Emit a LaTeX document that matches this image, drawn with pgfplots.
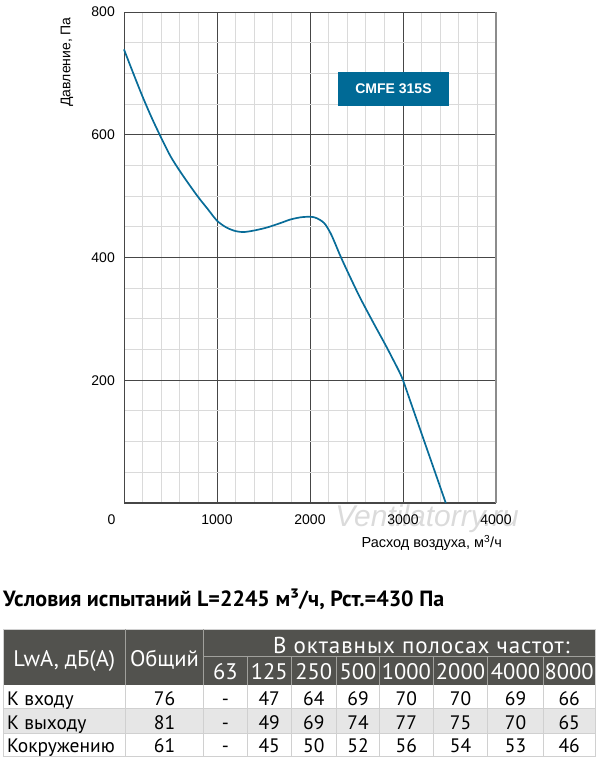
\documentclass[border=0pt]{standalone}
\usepackage{pgfplots}
\pgfplotsset{compat=1.18}
\usepackage{fontspec}
\setmainfont{Liberation Sans}
\newfontfamily\tabfont{PT Sans}
\newfontfamily\tabfontls[LetterSpace=4]{PT Sans}
\definecolor{curve}{RGB}{8,108,152}
\definecolor{boxblue}{RGB}{0,106,150}
\definecolor{hdr}{RGB}{82,82,78}
\definecolor{hdrline}{RGB}{160,160,156}
\definecolor{bodyline}{RGB}{208,208,208}
\definecolor{rowgray}{RGB}{230,230,230}
\definecolor{majgrid}{RGB}{70,70,70}
\definecolor{mingrid}{RGB}{218,218,218}
\begin{document}
\begin{tikzpicture}[x=1pt,y=1pt]
\useasboundingbox (0,0) rectangle (600,761);
% watermark
\node[font=\itshape\fontsize{30}{30}\selectfont, text=black!14, inner sep=0] at (427,242) {Ventilatorry.ru};
\begin{axis}[at={(124pt,258pt)}, anchor=south west, scale only axis,
  width=372pt, height=491pt,
  xmin=0, xmax=4000, ymin=0, ymax=800,
  xtick={0,1000,2000,3000,4000}, xticklabels={,1000,2000,3000,4000},
  ytick={0,200,400,600,800}, yticklabels={,200,400,600,800},
  minor x tick num=4, minor y tick num=3,
  grid=both,
  major grid style={majgrid, line width=0.8pt},
  minor grid style={mingrid, line width=1pt},
  major tick length=0pt, minor tick length=0pt,
  axis line style={majgrid, line width=1pt},
  /pgf/number format/assume math mode=true,
  ticklabel style={font=\fontsize{14}{14}\selectfont, inner sep=0pt},
  xticklabel style={anchor=north, yshift=-12pt},
  yticklabel style={anchor=east, xshift=-9pt},
  clip=false]
\addplot[curve, line width=1.7pt, smooth, tension=0.5] coordinates {
(0,739) (100,700) (200,662) (300,627) (400,595) (500,565) (600,541)
(700,519) (800,498) (900,479) (1000,460) (1100,449) (1200,443) (1288,441.5)
(1400,444) (1540,449) (1680,456) (1791,462) (1900,465.5) (1971,466.3)
(2030,466) (2079,463.6) (2130,459) (2169,453) (2223,439) (2270,423)
(2331,401) (2435,367) (2547,332) (2691,291) (2817,256) (2906,230)
(2950,217) (3000,200) (3115,150) (3230,100) (3345,50) (3460,0)};
\end{axis}
\draw[black!45, line width=1.3pt] (496,258) -- (496,749);
% chart annotations
\node[fill=boxblue, minimum width=111pt, minimum height=34pt, inner sep=0,
  text=white, font=\bfseries\fontsize{14}{14}\selectfont] at (393.5,672) {CMFE 315S};
\node[rotate=90, anchor=east, inner sep=0, font=\fontsize{14}{14}\selectfont] at (67,744) {Давление, Па};
\node[anchor=east, inner sep=0, font=\fontsize{14.5}{15}\selectfont] at (502,218) {Расход воздуха, м\textsuperscript{3}/ч};
\node[inner sep=0, font=\fontsize{14}{14}\selectfont] at (111.5,241) {0};
% title
\node[anchor=base west, inner sep=0, font=\tabfont\bfseries\fontsize{22}{22}\selectfont] at (3,154.5) {Условия испытаний L=2245 м³/ч, Рст.=430 Па};
% table backgrounds
\fill[hdr] (3,76) rectangle (595,131.7);
\fill[rowgray] (3,27.7) rectangle (595,52.7);
% body lines
\begin{scope}[bodyline, line width=0.9pt]
\draw (3,131.7) -- (595,131.7);
\foreach \y in {52.7,27.7,4.3} \draw (3,\y) -- (595,\y);
\foreach \x in {3,125.7,203.3,247.3,291,336.7,379.3,433.3,487.7,543.3,595} \draw (\x,4.3) -- (\x,76);
\draw (3,76) -- (3,131.7); \draw (595,76) -- (595,131.7);
\end{scope}
% header lines
\begin{scope}[hdrline, line width=0.9pt]
\draw (125.7,76) -- (125.7,131.7);
\draw (203.3,76) -- (203.3,131.7);
\draw (203.3,104.3) -- (595,104.3);
\foreach \x in {247.3,291,336.7,379.3,433.3,487.7,543.3} \draw (\x,76) -- (\x,104.3);
\end{scope}
% header text
\begin{scope}[every node/.style={inner sep=0, anchor=base, text=white, font=\tabfont\fontsize{22.5}{23}\selectfont}]
\node at (64.35,94.3) {LwA, дБ(А)};
\node at (164.5,94.3) {Общий};
\node[font=\tabfontls\fontsize{23}{23}\selectfont] at (421.5,107.7) {В октавных полосах частот:};
\foreach \x/\t in {225.3/63,269.15/125,313.85/250,358/500,406.3/1000,460.5/2000,515.5/4000,569.15/8000}
  \node at (\x,81) {\t};
\end{scope}
% body text
\begin{scope}[every node/.style={inner sep=0, anchor=base, text=black, font=\tabfont\fontsize{19.5}{20}\selectfont}]
\node[anchor=base west] at (7,56) {К входу};
\node[anchor=base west] at (7,31) {К выходу};
\node[anchor=base west] at (7,8.3) {Кокружению};
\foreach \x/\t in {164.5/76,225.3/-,269.15/47,313.85/64,358/69,406.3/70,460.5/70,515.5/69,569.15/66}
  \node at (\x,56) {\t};
\foreach \x/\t in {164.5/81,225.3/-,269.15/49,313.85/69,358/74,406.3/77,460.5/75,515.5/70,569.15/65}
  \node at (\x,31) {\t};
\foreach \x/\t in {164.5/61,225.3/-,269.15/45,313.85/50,358/52,406.3/56,460.5/54,515.5/53,569.15/46}
  \node at (\x,8.3) {\t};
\end{scope}
\end{tikzpicture}
\end{document}
